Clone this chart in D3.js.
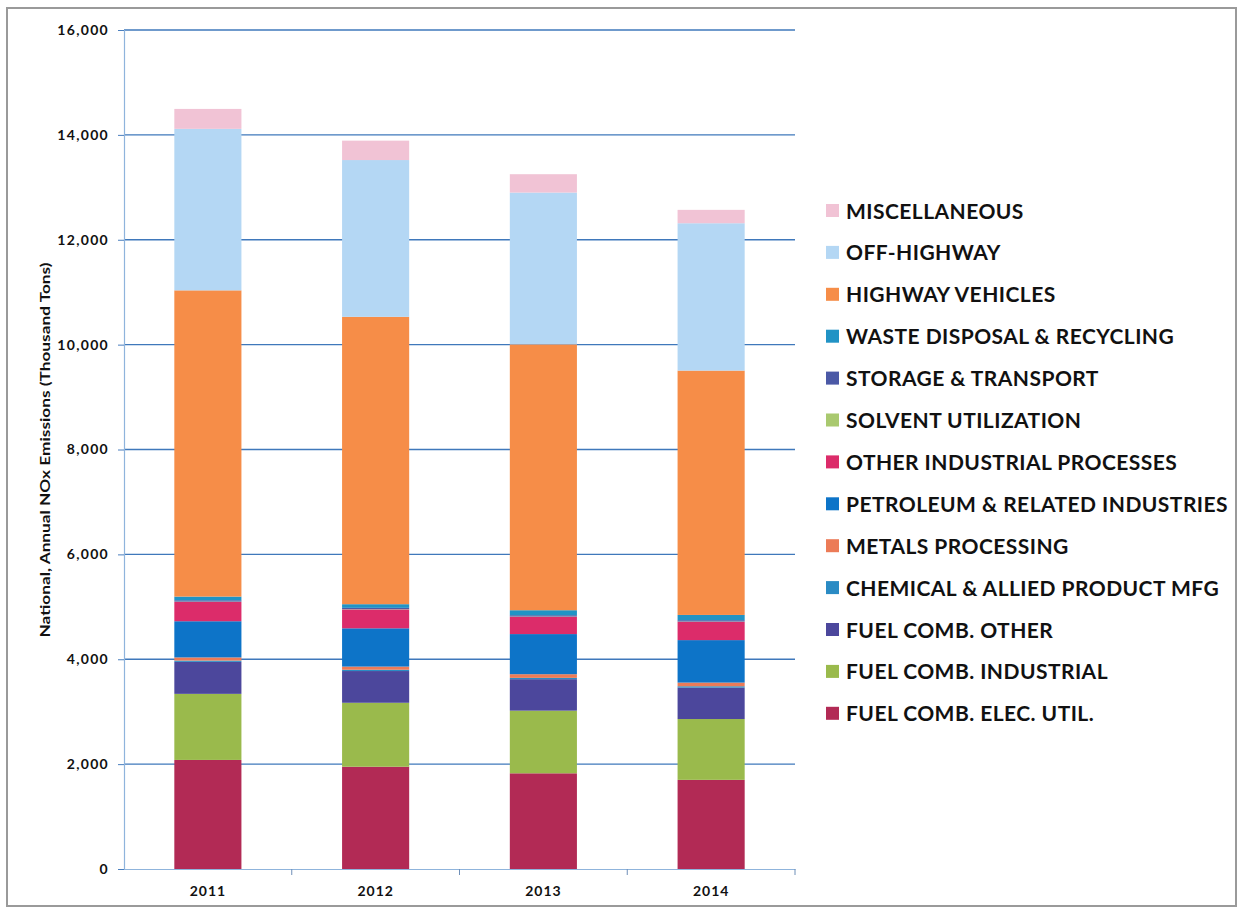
<!DOCTYPE html>
<html>
<head>
<meta charset="utf-8">
<script src="https://cdn.jsdelivr.net/npm/d3@7"></script>
<style>
  html, body { margin: 0; padding: 0; background: #fff; }
  svg { display: block; font-family: Lato, "Open Sans", sans-serif; }
</style>
</head>
<body>
<svg id="chart" width="1241" height="912"></svg>
<script>
// National NOx emissions by source sector, thousand tons
const years = ["2011", "2012", "2013", "2014"];

// Sectors listed bottom-to-top in stacking order
const sectors = [
  "FUEL COMB. ELEC. UTIL.",
  "FUEL COMB. INDUSTRIAL",
  "FUEL COMB. OTHER",
  "CHEMICAL & ALLIED PRODUCT MFG",
  "METALS PROCESSING",
  "PETROLEUM & RELATED INDUSTRIES",
  "OTHER INDUSTRIAL PROCESSES",
  "SOLVENT UTILIZATION",
  "STORAGE & TRANSPORT",
  "WASTE DISPOSAL & RECYCLING",
  "HIGHWAY VEHICLES",
  "OFF-HIGHWAY",
  "MISCELLANEOUS"
];

const fuelElecUtil   = [2080, 1950, 1825, 1700];
const fuelIndustrial = [1260, 1220, 1195, 1160];
const fuelOther      = [610, 605, 600, 600];
const chemical       = [25, 25, 25, 25];
const metals         = [60, 60, 70, 70];
const petroleum      = [690, 730, 765, 810];
const otherIndustrial= [370, 360, 330, 350];
const solvent        = [5, 5, 5, 5];
const storage        = [25, 25, 25, 25];
const waste          = [70, 70, 95, 100];
const highway        = [5840, 5480, 5070, 4660];
const offHighway     = [3080, 2990, 2895, 2810];
const miscellaneous  = [380, 370, 350, 255];

const seriesValues = [fuelElecUtil, fuelIndustrial, fuelOther, chemical, metals,
  petroleum, otherIndustrial, solvent, storage, waste, highway, offHighway, miscellaneous];

const colors = ["#b22a55", "#9aba4c", "#4c479c", "#2a8bc4", "#ec7b57",
  "#0d74c8", "#dc2c6a", "#a9c96f", "#4b59a6", "#2193c5", "#f68d48", "#b4d7f4", "#f1c3d5"];

const yTicks = [0, 2000, 4000, 6000, 8000, 10000, 12000, 14000, 16000];
const yTitle = "National, Annual NOx Emissions (Thousand Tons)";

// Build rows for d3.stack
const rows = years.map((yr, i) => {
  const r = { year: yr };
  sectors.forEach((s, k) => { r[s] = seriesValues[k][i]; });
  return r;
});

const svg = d3.select("#chart");

// Outer frame
svg.append("rect")
  .attr("x", 7).attr("y", 8).attr("width", 1229).attr("height", 898)
  .attr("fill", "none").attr("stroke", "#9a9a9a").attr("stroke-width", 2);

const plot = { left: 124, right: 795, top: 30, bottom: 869 };

const x = d3.scaleBand().domain(years).range([plot.left, plot.right]).paddingInner(0.6).paddingOuter(0.3);
const xOuter = d3.scaleBand().domain(years).range([plot.left, plot.right]);
const y = d3.scaleLinear().domain([0, 16000]).range([plot.bottom, plot.top]);

// Gridlines
svg.append("g").selectAll("line").data(yTicks.filter(t => t > 0)).join("line")
  .attr("x1", plot.left).attr("x2", plot.right)
  .attr("y1", d => y(d)).attr("y2", d => y(d))
  .attr("stroke", "#3f78bb").attr("stroke-width", 1.4);

// Stacked bars
const stack = d3.stack().keys(sectors);
const layers = stack(rows);
svg.append("g").selectAll("g").data(layers).join("g")
  .attr("fill", (d, i) => colors[i])
  .selectAll("rect").data(d => d).join("rect")
  .attr("x", d => x(d.data.year))
  .attr("width", x.bandwidth())
  .attr("y", d => y(d[1]))
  .attr("height", d => y(d[0]) - y(d[1]));

// Y axis
const yAxis = d3.axisLeft(y).tickValues(yTicks).tickFormat(d3.format(",")).tickSize(6).tickPadding(9);
const gy = svg.append("g").attr("transform", `translate(${plot.left},0)`).call(yAxis);
gy.select(".domain").attr("stroke", "#8fb4dc").attr("stroke-width", 1.2);
gy.selectAll(".tick line").attr("stroke", "#4a7fbf");
gy.selectAll(".tick text").attr("font-size", 14).attr("font-weight", 700).attr("fill", "#111")
  .attr("letter-spacing", "1.3px").attr("font-family", "Lato, sans-serif");

// X axis
const xAxis = d3.axisBottom(xOuter).tickSize(0).tickPadding(17);
const gx = svg.append("g").attr("transform", `translate(0,${plot.bottom})`).call(xAxis);
gx.select(".domain").attr("stroke", "#8fb4dc").attr("stroke-width", 1.2);
gx.selectAll(".tick text").attr("font-size", 14).attr("font-weight", 700).attr("fill", "#111")
  .attr("letter-spacing", "1px").attr("font-family", "Lato, sans-serif");
// category separators on the x axis
gx.append("g").selectAll("line").data(years).join("line")
  .attr("x1", d => xOuter(d) + xOuter.step())
  .attr("x2", d => xOuter(d) + xOuter.step())
  .attr("y1", 0).attr("y2", 6)
  .attr("stroke", "#6f8fb8");

// Y axis title
svg.append("text")
  .attr("transform", "translate(50,450) rotate(-90)")
  .attr("text-anchor", "middle")
  .attr("font-size", 14).attr("font-weight", 700).attr("fill", "#111")
  .attr("textLength", 375).attr("lengthAdjust", "spacingAndGlyphs")
  .text(yTitle);

// Legend, top entry is the top of the stack
const legendItems = sectors.map((s, i) => ({ name: s, color: colors[i] })).reverse();
const legend = svg.append("g").attr("transform", "translate(826,211)");
const li = legend.selectAll("g").data(legendItems).join("g")
  .attr("transform", (d, i) => `translate(0,${i * 41.9})`);
li.append("rect").attr("x", 0).attr("y", -7).attr("width", 13).attr("height", 13)
  .attr("fill", d => d.color);
li.append("text").attr("x", 20).attr("y", 0).attr("dy", "0.36em")
  .attr("font-size", 21).attr("font-weight", 700).attr("fill", "#111")
  .attr("letter-spacing", "0.45px")
  .text(d => d.name);
</script>
</body>
</html>
